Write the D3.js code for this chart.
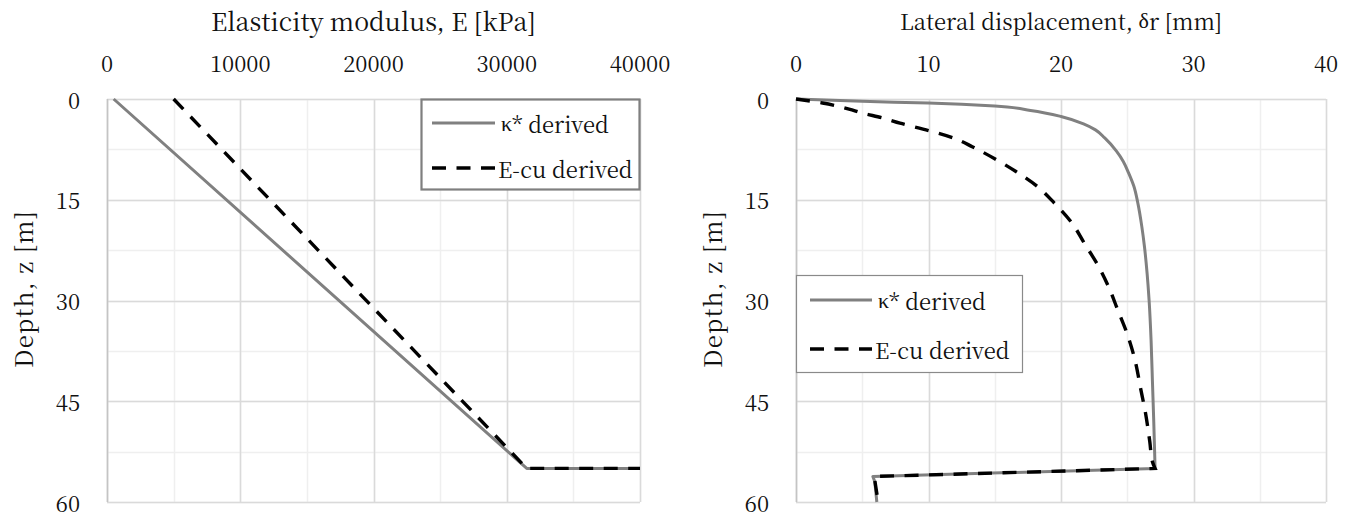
<!DOCTYPE html>
<html>
<head>
<meta charset="utf-8">
<script src="https://cdn.jsdelivr.net/npm/d3@7"></script>
<style>
  body { margin: 0; background: #fff; }
  svg { display: block; }
</style>
</head>
<body>
<svg id="chart" width="1351" height="518"></svg>
<script>
// ---- data ----
const depthTicks = [0, 15, 30, 45, 60];
const modulusTicks = [0, 10000, 20000, 30000, 40000];
const dispTicks = [0, 10, 20, 30, 40];
const seriesNames = ["κ* derived", "E-cu derived"];

// Elasticity modulus with depth: [E (kPa), z (m)]
const kappaModulus = [[500, 0], [31500, 55], [40000, 55]];
const ecuModulus = [[5000, 0], [31500, 55], [40000, 55]];

// Lateral displacement with depth: [δr (mm), z (m)]
const kappaDisp = [
  [0, 0], [5, 0.35], [10, 0.6], [15, 1.05], [17.7, 1.7], [20, 2.6], [21.7, 3.7],
  [22.6, 4.6], [23.3, 5.8], [24.2, 7.8], [24.7, 9.3], [25.1, 11], [25.5, 13],
  [25.8, 15.5], [26.1, 19], [26.3, 22], [26.5, 26], [26.65, 30], [26.8, 36],
  [26.9, 42], [27.0, 48], [27.1, 55.0], [5.8, 56.2], [5.95, 57], [6.1, 60]
];
const ecuDisp = [
  [0, 0], [2, 0.6], [4, 1.5], [5, 2.1], [6.5, 2.8], [7.85, 3.6], [10, 4.7],
  [12, 5.9], [13.3, 7.1], [15, 8.9], [16.6, 10.8], [18.2, 13.0], [19.5, 15.5],
  [20.8, 18.4], [21.8, 21.6], [22.8, 24.8], [23.6, 28], [24.3, 31.5], [25.0, 35],
  [25.6, 39], [26.0, 43], [26.4, 47], [26.7, 51], [26.9, 54], [27.1, 55.0],
  [5.9, 56.2], [6.2, 60]
];

// ---- drawing ----
const svg = d3.select("#chart");
const FAMILY = '"Noto Serif CJK SC", "Liberation Serif", serif';
const GREEK_FAMILY = '"Liberation Serif", "DejaVu Serif", serif';
const FONT = 22;
const SOLID = "#808080";
const DASH = "14,10.5";

function styleText(sel, size) {
  return sel.style("font-family", FAMILY).style("font-size", size + "px").style("fill", "#111");
}

// Write a string into a text node, giving Greek letters a proportional serif face
function richText(sel, str) {
  const runs = str.match(/[\u0370-\u03FF]+|[^\u0370-\u03FF]+/g) || [];
  runs.forEach(run => {
    const t = sel.append("tspan").text(run);
    if (/[\u0370-\u03FF]/.test(run)) t.style("font-family", GREEK_FAMILY);
  });
  return sel;
}

// Open up the letter spacing so a label spans the given width
function spread(sel, width) {
  if (!width) return sel;
  const node = sel.node();
  const w = node.getComputedTextLength();
  const n = node.getNumberOfChars();
  if (n > 1 && width > w) sel.style("letter-spacing", ((width - w) / n) + "px");
  return sel;
}

// Smooth through the monotone-in-depth part, straight segments after the knee
function profilePath(x, y, pts, smooth) {
  const lin = d3.line().x(d => x(d[0])).y(d => y(d[1]));
  if (!smooth) return lin(pts);
  let k = 0;
  pts.forEach((d, i) => { if (d[0] >= pts[k][0]) k = i; });
  const upper = pts.slice(0, k + 1);
  const lower = pts.slice(k);
  const sm = d3.line().x(d => x(d[0])).y(d => y(d[1])).curve(d3.curveMonotoneY);
  return sm(upper) + lin(lower).replace(/^M/, "L");
}

function panel(opts) {
  const g = svg.append("g");
  const x = d3.scaleLinear().domain([0, opts.xTicks[opts.xTicks.length - 1]]).range([opts.left, opts.right]);
  const y = d3.scaleLinear().domain([0, 60]).range([opts.top, opts.bottom]);
  const px = v => Math.round(v) + 0.5;

  // minor gridlines
  const xMinor = d3.range(0, x.domain()[1] + 1e-9, opts.xMinorStep);
  const yMinor = d3.range(0, 60 + 1e-9, 7.5);
  g.append("g").selectAll("line").data(xMinor).join("line")
    .attr("x1", d => px(x(d))).attr("x2", d => px(x(d)))
    .attr("y1", opts.top).attr("y2", opts.bottom)
    .attr("stroke", "#efefef").attr("stroke-width", 1.5);
  g.append("g").selectAll("line").data(yMinor).join("line")
    .attr("y1", d => px(y(d))).attr("y2", d => px(y(d)))
    .attr("x1", opts.left).attr("x2", opts.right)
    .attr("stroke", "#efefef").attr("stroke-width", 1.5);

  // major gridlines
  g.append("g").selectAll("line").data(opts.xTicks).join("line")
    .attr("x1", d => px(x(d))).attr("x2", d => px(x(d)))
    .attr("y1", opts.top).attr("y2", opts.bottom)
    .attr("stroke", "#dadada").attr("stroke-width", 1.5);
  g.append("g").selectAll("line").data(depthTicks).join("line")
    .attr("y1", d => px(y(d))).attr("y2", d => px(y(d)))
    .attr("x1", opts.left).attr("x2", opts.right)
    .attr("stroke", "#dadada").attr("stroke-width", 1.5);

  // vertical axis line
  g.append("line")
    .attr("x1", px(opts.left)).attr("x2", px(opts.left))
    .attr("y1", opts.top).attr("y2", opts.bottom)
    .attr("stroke", "#c4c4c4").attr("stroke-width", 1.5);

  // tick labels
  styleText(g.append("g").selectAll("text").data(opts.xTicks).join("text")
    .attr("x", d => x(d)).attr("y", 62)
    .attr("text-anchor", "middle").attr("dominant-baseline", "central"), FONT)
    .text(d => d);
  styleText(g.append("g").selectAll("text").data(depthTicks).join("text")
    .attr("x", opts.left - 27).attr("y", d => y(d))
    .attr("text-anchor", "end").attr("dominant-baseline", "central"), FONT)
    .text(d => d);

  // axis titles
  const xt = richText(styleText(g.append("text")
    .attr("x", (opts.left + opts.right) / 2).attr("y", 20)
    .attr("text-anchor", "middle").attr("dominant-baseline", "central"), opts.xTitleSize),
    opts.xTitle);
  spread(xt, opts.xTitleLen);
  const yt = styleText(g.append("text")
    .attr("transform", `translate(${opts.left - 85},289) rotate(-90)`)
    .attr("text-anchor", "middle").attr("dominant-baseline", "central"), 24)
    .text("Depth, z [m]");
  spread(yt, 158);

  // series
  g.append("path").attr("d", profilePath(x, y, opts.solid, opts.smooth))
    .attr("fill", "none").attr("stroke", SOLID).attr("stroke-width", 3)
    .attr("stroke-linejoin", "round");
  g.append("path").attr("d", profilePath(x, y, opts.dashed, opts.smooth))
    .attr("fill", "none").attr("stroke", "#000").attr("stroke-width", 3.4)
    .attr("stroke-dasharray", DASH);

  // legend
  const L = opts.legend;
  const lg = g.append("g");
  lg.append("rect")
    .attr("x", L.x).attr("y", L.y).attr("width", L.w).attr("height", L.h)
    .attr("fill", "#fff").attr("stroke", L.stroke).attr("stroke-width", L.sw);
  const rows = [
    { name: seriesNames[0], color: SOLID, dash: null, w: 3, len: 107 },
    { name: seriesNames[1], color: "#000", dash: DASH, w: 3.4, len: 132 }
  ];
  rows.forEach((r, i) => {
    const ly = L.rowY[i];
    lg.append("line")
      .attr("x1", L.lineX[0]).attr("x2", L.lineX[1]).attr("y1", ly).attr("y2", ly)
      .attr("stroke", r.color).attr("stroke-width", r.w)
      .attr("stroke-dasharray", r.dash);
    const t = richText(styleText(lg.append("text")
      .attr("x", L.lineX[1] + (i === 0 ? 6 : 3)).attr("y", ly)
      .attr("dominant-baseline", "central"), FONT), r.name);
    spread(t, r.len);
  });
}

panel({
  left: 107, right: 640, top: 99, bottom: 502,
  xTicks: modulusTicks, xMinorStep: 5000,
  xTitle: "Elasticity modulus, E [kPa]", xTitleSize: 25, xTitleLen: 312,
  solid: kappaModulus, dashed: ecuModulus, smooth: false,
  legend: { x: 421.5, y: 99.5, w: 218, h: 90, stroke: "#7f7f7f", sw: 2.2,
            rowY: [123, 168], lineX: [432, 495] }
});

panel({
  left: 796, right: 1326, top: 99, bottom: 502,
  xTicks: dispTicks, xMinorStep: 5,
  xTitle: "Lateral displacement, δr [mm]", xTitleSize: 22, xTitleLen: 0,
  solid: kappaDisp, dashed: ecuDisp, smooth: true,
  legend: { x: 796.5, y: 275.5, w: 226, h: 97, stroke: "#8a8a8a", sw: 1.2,
            rowY: [300, 349], lineX: [810, 872] }
});
</script>
</body>
</html>
